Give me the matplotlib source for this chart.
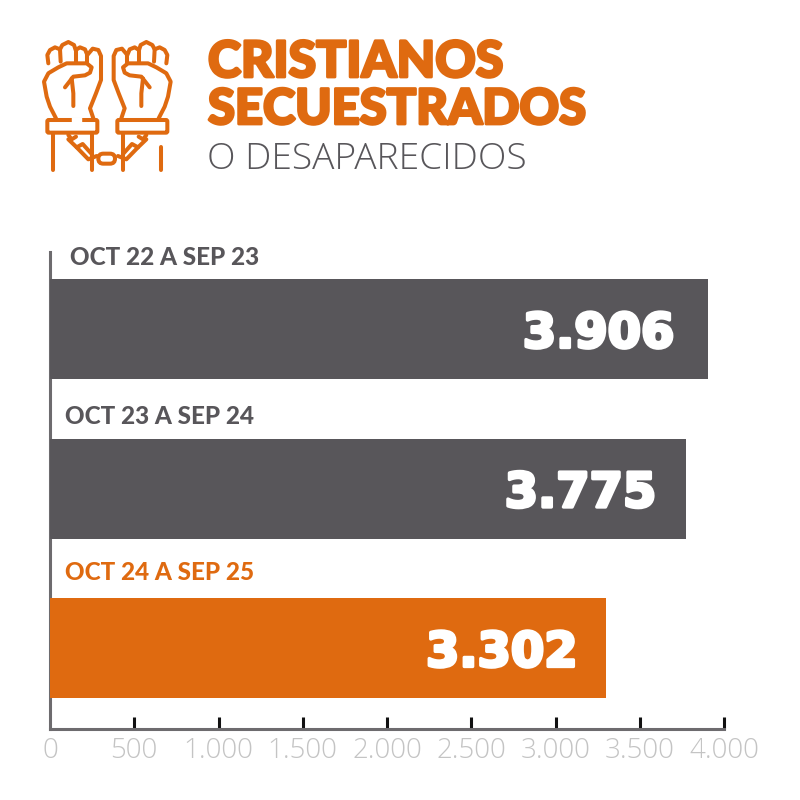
import matplotlib
matplotlib.use("Agg")
import matplotlib.pyplot as plt
import matplotlib.patheffects as pe
from matplotlib.patches import FancyBboxPatch

periods = ["OCT 22 A SEP 23", "OCT 23 A SEP 24", "OCT 24 A SEP 25"]
values = [3906, 3775, 3302]
value_labels = ["3.906", "3.775", "3.302"]
ticks = [0, 500, 1000, 1500, 2000, 2500, 3000, 3500, 4000]
tick_labels = ["0", "500", "1.000", "1.500", "2.000", "2.500", "3.000", "3.500", "4.000"]

ORANGE, DARK, AXIS, TICKTXT = "#df6a10", "#58565a", "#6d6b6e", "#c4c4c4"
bar_colors = [DARK, DARK, ORANGE]
label_colors = [DARK, DARK, ORANGE]
label_nudge = [20, 15, 15]    # px right of the axis
label_rise = [72, 72, 75]     # px above the bar centre
value_pad = [-34, -30, -29]   # px in from the bar end

fig = plt.figure(figsize=(8, 8), dpi=100, facecolor="white")


def fx(px):
    return px / 800


def fy(py):
    return 1 - py / 800


ax = fig.add_axes([fx(50), fy(729), (724 - 50) / 800, (729 - 252) / 800])
ax.barh(range(3), values, height=0.627, color=bar_colors, zorder=3)
ax.set_xlim(0, 4000)
ax.set_ylim(2.508, -0.483)
ax.spines["top"].set_visible(False)
ax.spines["right"].set_visible(False)
for s in ("left", "bottom"):
    ax.spines[s].set_color(AXIS)
    ax.spines[s].set_linewidth(2.2)
ax.set_yticks([])
ax.set_xticks(ticks)
ax.set_xticklabels(tick_labels, family="Open Sans", weight="light", fontsize=20, color=TICKTXT)
ax.tick_params(axis="x", direction="in", length=8.5, width=2.2, color="#111111", pad=6)
ax.xaxis.get_major_ticks()[0].tick1line.set_visible(False)

for i, (p, v, lab) in enumerate(zip(periods, values, value_labels)):
    ax.annotate(p, (0, i), xytext=(label_nudge[i] * 0.72, label_rise[i] * 0.72),
                textcoords="offset points", va="center", ha="left",
                family="Lato", weight="black", fontsize=17.5, color=label_colors[i])
    ax.annotate(lab, (v, i), xytext=(value_pad[i] * 0.72, 0), textcoords="offset points",
                va="center_baseline", ha="right", family="DejaVu Sans", weight="bold",
                fontsize=34.5, color="white", zorder=5,
                path_effects=[pe.withStroke(linewidth=2.4, foreground="white")])

# heading
thick = [pe.withStroke(linewidth=2.0, foreground=ORANGE)]
fig.text(fx(208), fy(77), "CRISTIANOS", family="Lato", weight="black", fontsize=36,
         color=ORANGE, path_effects=thick)
fig.text(fx(208), fy(124), "SECUESTRADOS", family="Lato", weight="black", fontsize=35.2,
         color=ORANGE, path_effects=thick)
fig.text(fx(207), fy(169), "O DESAPARECIDOS", family="Open Sans", weight="light", fontsize=26.7, color=DARK)

# handcuffed fists, sketched in zoomed-up units around the centre line
icon = fig.add_axes([0, 0, 1, 1], facecolor="none")
icon.set_xlim(0, 800)
icon.set_ylim(800, 0)
icon.axis("off")
MID = 232
LW = 2.9


def stroke(pts, mirror=True):
    for m in (False, True) if mirror else (False,):
        xs = [30 + (2 * MID - x if m else x) / 3 for x, _ in pts]
        ys = [30 + y / 3 for _, y in pts]
        icon.plot(xs, ys, color=ORANGE, lw=LW, solid_capstyle="round", solid_joinstyle="round")


hand_parts = [
    [(55, 100), (52, 75), (60, 60), (75, 52), (90, 58), (97, 45), (115, 36), (132, 45), (137, 60),
     (150, 52), (165, 58), (172, 75), (188, 56), (205, 60), (213, 78), (213, 150), (198, 190),
     (180, 235), (190, 265)],
    [(55, 130), (42, 155), (50, 200), (60, 230), (78, 265)],
    [(58, 128), (85, 112), (110, 100), (170, 100), (185, 112), (180, 128), (165, 136), (130, 140),
     (105, 172)],
    [(90, 58), (92, 95)], [(137, 60), (137, 95)], [(172, 75), (172, 98)],
    [(125, 145), (130, 190), (130, 228)],
    [(185, 310), (185, 420)],
    [(115, 315), (125, 328), (138, 320)],
    [(115, 328), (140, 352), (175, 388), (200, 378)],
    [(140, 352), (158, 342), (185, 372)],
]
for part in hand_parts:
    stroke(part)
stroke([(70, 310), (70, 420)], mirror=False)
stroke([(394, 352), (394, 420)], mirror=False)

for x0 in (52, 262):
    icon.add_patch(FancyBboxPatch((30 + x0 / 3, 30 + 270 / 3), 150 / 3, 38 / 3,
                                  boxstyle="round,pad=0,rounding_size=1.5",
                                  fc="white", ec=ORANGE, lw=LW))
# break in the left cuff's top edge
icon.plot([30 + 133 / 3, 30 + 147 / 3], [120, 120], color="white", lw=LW + 1, zorder=6)
icon.add_patch(FancyBboxPatch((30 + 205 / 3, 30 + 371 / 3), 50 / 3, 30 / 3,
                              boxstyle="round,pad=0,rounding_size=5",
                              fc="white", ec=ORANGE, lw=LW))

fig.savefig("out.png", dpi=100, facecolor="white")
